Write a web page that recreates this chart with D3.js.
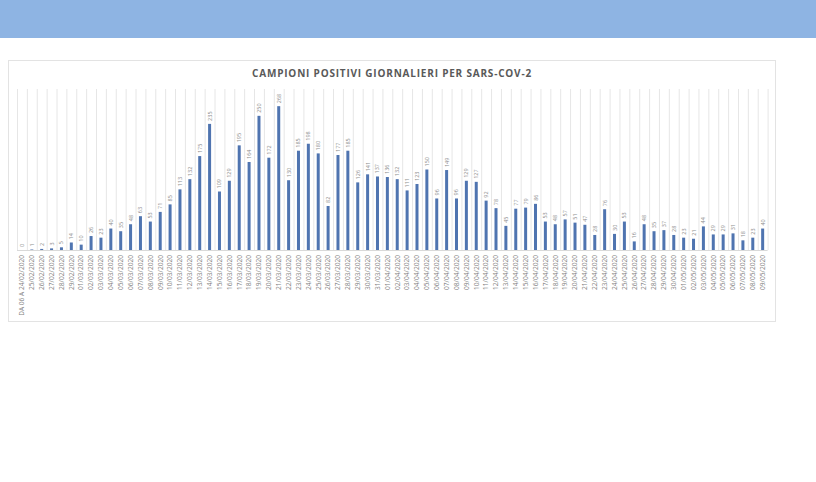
<!DOCTYPE html>
<html><head><meta charset="utf-8">
<script src="https://cdn.jsdelivr.net/npm/d3@7"></script>
<style>
html,body{margin:0;padding:0;background:#fff;}
svg{display:block;}
</style></head>
<body>
<svg id="c" width="816" height="482"></svg>
<script>
const title = "CAMPIONI POSITIVI GIORNALIERI PER SARS-COV-2";
const dates = ["DA 06 A 24/02/2020","25/02/2020","26/02/2020","27/02/2020","28/02/2020","29/02/2020",
"01/03/2020","02/03/2020","03/03/2020","04/03/2020","05/03/2020","06/03/2020","07/03/2020","08/03/2020","09/03/2020","10/03/2020",
"11/03/2020","12/03/2020","13/03/2020","14/03/2020","15/03/2020","16/03/2020","17/03/2020","18/03/2020","19/03/2020","20/03/2020",
"21/03/2020","22/03/2020","23/03/2020","24/03/2020","25/03/2020","26/03/2020","27/03/2020","28/03/2020","29/03/2020","30/03/2020","31/03/2020",
"01/04/2020","02/04/2020","03/04/2020","04/04/2020","05/04/2020","06/04/2020","07/04/2020","08/04/2020","09/04/2020","10/04/2020",
"11/04/2020","12/04/2020","13/04/2020","14/04/2020","15/04/2020","16/04/2020","17/04/2020","18/04/2020","19/04/2020","20/04/2020",
"21/04/2020","22/04/2020","23/04/2020","24/04/2020","25/04/2020","26/04/2020","27/04/2020","28/04/2020","29/04/2020","30/04/2020",
"01/05/2020","02/05/2020","03/05/2020","04/05/2020","05/05/2020","06/05/2020","07/05/2020","08/05/2020","09/05/2020"];
const values = [0,1,2,3,5,14,10,26,23,40,35,48,63,53,71,85,113,132,175,235,109,129,195,164,250,172,268,130,185,198,180,82,177,185,126,141,137,136,132,111,123,150,96,149,96,129,127,92,78,45,77,79,86,53,48,57,51,47,28,76,30,53,16,48,35,37,28,23,21,44,29,29,31,18,23,40];
const yMax = 300;

const svg = d3.select("#c");
// header band
svg.append("rect").attr("x",0).attr("y",0).attr("width",816).attr("height",38).attr("fill","#8EB4E3");
// chart frame
svg.append("rect").attr("x",8.5).attr("y",60.5).attr("width",767).attr("height",261)
  .attr("fill","#fff").attr("stroke","#e3e3e3").attr("stroke-width",1);

svg.append("text").attr("x",392).attr("y",77).attr("text-anchor","middle")
  .attr("font-family","Open Sans").attr("font-weight","bold").attr("font-size",10)
  .attr("letter-spacing",0.8)
  .attr("fill","#595959").text(title);

const x0 = 17, x1 = 767.6;
const x = d3.scaleBand().domain(dates).range([x0,x1]).padding(0);
const y = d3.scaleLinear().domain([0,yMax]).range([250,89]);
const bw = 3;
const cx = d => x(d) + x.bandwidth()/2;

const g = svg.append("g");
// vertical gridlines at category boundaries
g.selectAll("line.grid").data(dates.concat([null])).join("line")
  .attr("x1",d=>(d===null?x1:x(d))+0.5).attr("x2",d=>(d===null?x1:x(d))+0.5)
  .attr("y1",y(yMax)).attr("y2",y(0)).attr("stroke","#e6e6e6").attr("stroke-width",1);

// bars
g.selectAll("rect.bar").data(values).join("rect")
  .attr("x",(v,i)=>cx(dates[i])-bw/2).attr("width",bw)
  .attr("y",v=>y(v)).attr("height",v=>y(0)-y(v)).attr("fill","#4F74B0");

// baseline
g.append("line").attr("x1",x0).attr("x2",x1).attr("y1",250.5).attr("y2",250.5).attr("stroke","#d9d9d9");

// value labels
g.selectAll("text.val").data(values).join("text")
  .attr("transform",(v,i)=>`translate(${cx(dates[i])+2},${y(v)-3}) rotate(-90)`)
  .attr("font-family","Open Sans").attr("font-size",5.5).attr("fill","#8c8c8c")
  .text(v=>v);

// category labels
g.selectAll("text.cat").data(dates).join("text")
  .attr("transform",d=>`translate(${cx(d)+2.3},255) rotate(-90)`)
  .attr("text-anchor","end")
  .attr("font-family","Open Sans").attr("font-size",6.6).attr("fill","#7f7f7f")
  .text(d=>d);
</script>
</body></html>
